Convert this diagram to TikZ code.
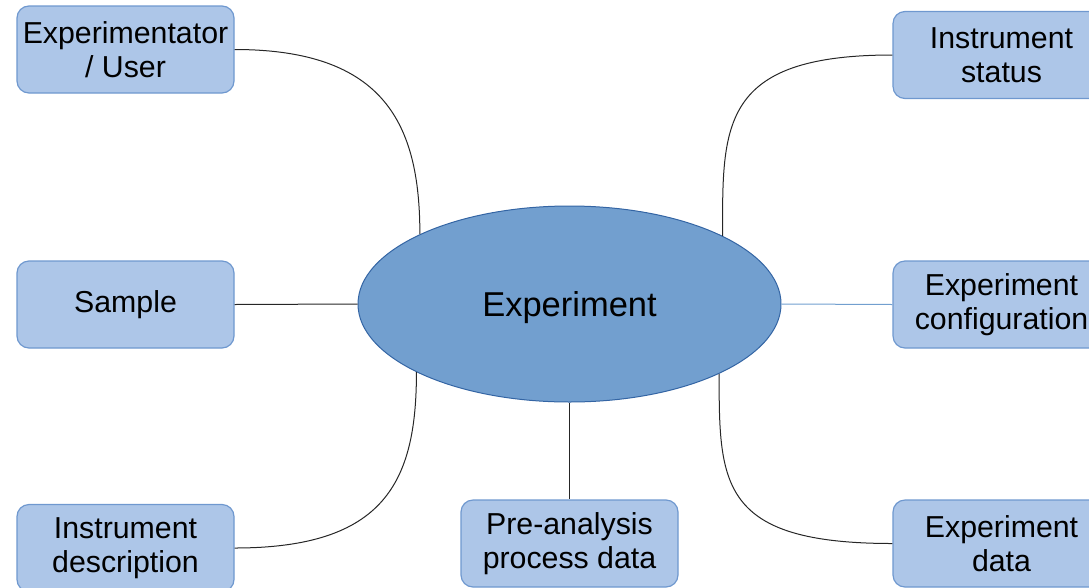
\documentclass[tikz,border=0pt]{standalone}
\usepackage{fontspec}
\setmainfont{Liberation Sans}
\usetikzlibrary{shapes.geometric}
\definecolor{boxfill}{HTML}{ADC6E8}
\definecolor{boxline}{HTML}{6F98CF}
\definecolor{ellfill}{HTML}{729FCF}
\definecolor{ellline}{HTML}{3465A4}
\tikzset{
  box/.style={draw=boxline, fill=boxfill, line width=1.2pt, rounded corners=12pt,
    minimum width=217pt, minimum height=87pt, inner sep=0pt, align=center,
    font=\fontsize{30.3}{34}\selectfont, text=black},
  hub/.style={ellipse, draw=ellline, fill=ellfill, line width=1pt,
    minimum width=423pt, minimum height=196pt, inner sep=0pt, text depth=0pt,
    font=\fontsize{34.5}{40}\selectfont},
  link/.style={draw=black!85, line width=1pt}
}
\begin{document}
\begin{tikzpicture}[x=1pt,y=-1pt]
\useasboundingbox (0,0) rectangle (1089,587);
\node[hub] (e) at (569.5,304) {Experiment};
\node[box] (user) at (125.5,49.5) {Experimentator\\/ User};
\node[box] (sample) at (125.5,304.5) {Sample};
\node[box] (idesc) at (125.5,548) {Instrument\\description};
\node[box] (pre) at (569.5,543.5) {Pre-analysis\\process data};
\node[box] (istat) at (1001.5,55) {Instrument\\status};
\node[box] (conf) at (1001.5,304.5) {Experiment\\configuration};
\node[box] (edata) at (1001.5,543.5) {Experiment\\data};
\draw[link] (user.east) .. controls +(150,0) and +(0,-110) .. (e.155.2);
\draw[link] (sample.east) -- (e.west);
\draw[link] (idesc.east) .. controls +(150,0) and +(0,110) .. (e.204.8);
\draw[link] (e.south) -- (pre.north);
\draw[link] (istat.west) .. controls +(-173,0) and +(0,-110) .. (e.24.8);
\draw[draw=ellfill, line width=1pt] (e.east) -- (conf.west);
\draw[link] (edata.west) .. controls +(-173,0) and +(0,110) .. (e.335.2);
\end{tikzpicture}
\end{document}
